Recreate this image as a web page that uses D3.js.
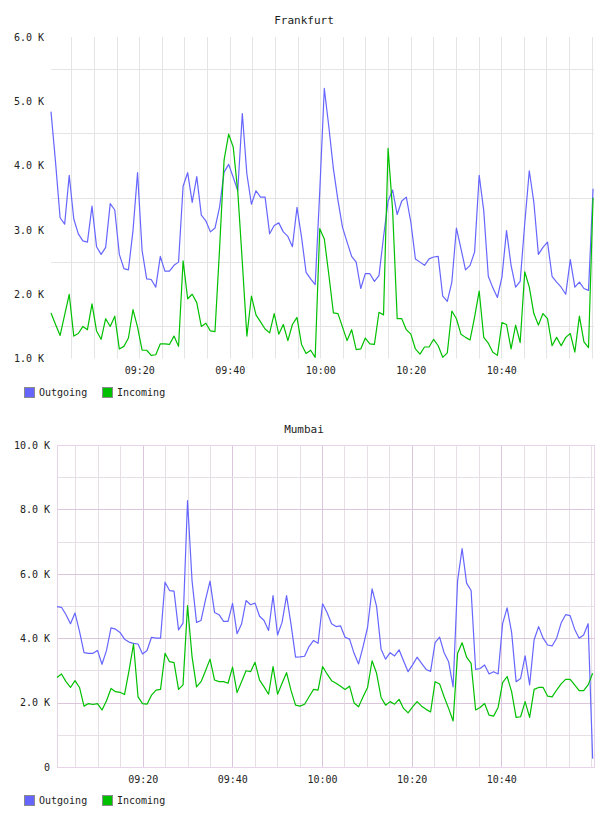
<!DOCTYPE html>
<html>
<head>
<meta charset="utf-8">
<script src="https://cdn.jsdelivr.net/npm/d3@7"></script>
<style>
body { margin: 0; background: #fff; }
text { font-family: "DejaVu Sans Mono", monospace; fill: #222; }
</style>
</head>
<body>
<div id="chart"></div>
<script>
// values in thousands, one sample per step
const frankfurtOut = [
    4.84, 4.05, 3.19, 3.09, 3.85, 3.17, 2.94, 2.83, 2.81, 3.37,
    2.74, 2.62, 2.73, 3.41, 3.31, 2.62, 2.40, 2.38, 2.99, 3.89,
    2.68, 2.24, 2.23, 2.11, 2.59, 2.36, 2.36, 2.45, 2.50, 3.68,
    3.89, 3.43, 3.83, 3.23, 3.14, 2.97, 3.03, 3.35, 3.90, 4.02,
    3.82, 3.61, 4.81, 3.87, 3.40, 3.61, 3.51, 3.51, 2.94, 3.07,
    3.11, 2.97, 2.90, 2.74, 3.35, 2.89, 2.34, 2.24, 2.15, 3.60,
    5.20, 4.60, 3.95, 3.46, 3.04, 2.81, 2.59, 2.50, 2.09, 2.32,
    2.32, 2.20, 2.29, 2.89, 3.45, 3.62, 3.24, 3.45, 3.51, 3.12,
    2.55, 2.50, 2.45, 2.55, 2.58, 2.59, 1.97, 1.89, 2.19, 3.03,
    2.71, 2.38, 2.45, 2.66, 3.85, 3.30, 2.28, 2.10, 1.95, 2.27,
    2.99, 2.45, 2.11, 2.20, 3.10, 3.92, 3.43, 2.62, 2.73, 2.81,
    2.28, 2.19, 2.11, 2.00, 2.54, 2.11, 2.19, 2.09, 2.06, 3.64
];
const frankfurtIn = [
    1.71, 1.53, 1.36, 1.68, 2.00, 1.35, 1.39, 1.50, 1.45, 1.85,
    1.43, 1.30, 1.62, 1.50, 1.66, 1.15, 1.19, 1.32, 1.76, 1.49,
    1.13, 1.13, 1.05, 1.06, 1.23, 1.23, 1.22, 1.35, 1.19, 2.52,
    1.93, 2.00, 1.87, 1.50, 1.55, 1.43, 1.42, 2.70, 4.09, 4.49,
    4.29, 3.60, 2.50, 1.35, 1.97, 1.68, 1.57, 1.46, 1.40, 1.70,
    1.38, 1.53, 1.28, 1.53, 1.64, 1.22, 1.08, 1.13, 1.02, 3.02,
    2.86, 2.30, 1.71, 1.70, 1.49, 1.28, 1.45, 1.14, 1.15, 1.32,
    1.23, 1.22, 1.72, 1.68, 4.27, 3.30, 1.62, 1.62, 1.45, 1.38,
    1.15, 1.07, 1.18, 1.18, 1.30, 1.20, 1.02, 1.09, 1.74, 1.62,
    1.38, 1.33, 1.29, 1.65, 2.05, 1.33, 1.24, 1.10, 1.05, 1.56,
    1.53, 1.15, 1.52, 1.25, 2.35, 2.11, 1.70, 1.52, 1.70, 1.62,
    1.20, 1.33, 1.20, 1.33, 1.39, 1.10, 1.66, 1.26, 1.17, 3.50
];
const mumbaiOut = [
    4.98, 4.96, 4.73, 4.45, 4.78, 4.21, 3.55, 3.53, 3.53, 3.62,
    3.19, 3.62, 4.32, 4.28, 4.18, 3.97, 3.88, 3.84, 3.82, 3.51,
    3.62, 4.03, 4.00, 4.00, 5.74, 5.48, 5.46, 4.26, 4.47, 8.27,
    5.79, 4.49, 4.55, 5.20, 5.77, 4.80, 4.73, 4.52, 4.52, 5.08,
    4.14, 4.44, 5.17, 5.04, 5.09, 4.68, 4.55, 4.24, 5.32, 4.10,
    4.49, 5.32, 4.42, 3.41, 3.42, 3.44, 3.74, 3.93, 3.84, 5.07,
    4.80, 4.45, 4.36, 4.38, 4.03, 3.97, 3.53, 3.20, 3.74, 4.34,
    5.53, 4.99, 3.66, 3.35, 3.55, 3.45, 3.64, 3.29, 2.96, 3.17,
    3.41, 3.22, 3.03, 2.97, 3.86, 4.03, 3.55, 3.27, 2.49, 5.79,
    6.78, 5.71, 5.48, 3.03, 3.06, 3.17, 2.89, 2.96, 2.89, 4.45,
    4.94, 4.18, 2.65, 2.75, 3.45, 2.55, 3.95, 4.36, 4.00, 3.79,
    3.76, 4.00, 4.47, 4.73, 4.70, 4.28, 4.00, 4.10, 4.45, 0.26
];
const mumbaiIn = [
    2.78, 2.89, 2.65, 2.47, 2.68, 2.47, 1.89, 1.97, 1.94, 1.97,
    1.77, 2.06, 2.44, 2.34, 2.32, 2.25, 2.99, 3.82, 2.18, 1.97,
    1.95, 2.23, 2.39, 2.41, 3.53, 3.27, 3.24, 2.41, 2.55, 5.01,
    3.43, 2.49, 2.65, 2.99, 3.35, 2.70, 2.65, 2.65, 2.60, 3.10,
    2.31, 2.65, 2.99, 2.96, 3.25, 2.70, 2.49, 2.26, 3.12, 2.26,
    2.60, 2.93, 2.37, 1.92, 1.89, 1.95, 2.18, 2.41, 2.39, 3.12,
    2.89, 2.68, 2.60, 2.51, 2.41, 2.51, 1.99, 1.87, 2.18, 2.47,
    3.30, 2.91, 2.16, 1.92, 2.03, 1.95, 2.10, 1.82, 1.68, 1.87,
    2.03, 1.89, 1.79, 1.71, 2.65, 2.58, 2.18, 1.82, 1.43, 3.53,
    3.86, 3.41, 3.22, 1.77, 1.85, 1.97, 1.61, 1.58, 1.85, 2.62,
    2.81, 2.34, 1.54, 1.56, 2.03, 1.54, 2.41, 2.47, 2.47, 2.20,
    2.18, 2.39, 2.58, 2.72, 2.72, 2.55, 2.37, 2.37, 2.55, 2.91
];

const seriesNames = ["Outgoing", "Incoming"];
const seriesColors = ["#6666ff", "#00c000"];

const frankfurtTicks = [1, 2, 3, 4, 5, 6];
const frankfurtGrid = [1.5, 2.5, 3.5, 4.5, 5.5];
const mumbaiTicks = [0, 2, 4, 6, 8, 10];
const mumbaiMinorGrid = [1, 3, 5, 7, 9];
const mumbaiMajorGrid = [2, 4, 6, 8];

const timeLabels = ["09:20", "09:40", "10:00", "10:20", "10:40"];

const parseHM = d3.timeParse("%H:%M:%S");
const fmtK = d => d === 0 ? "0" : d.toFixed(1) + " K";

const svg = d3.select("#chart")
    .append("svg")
    .attr("width", 608)
    .attr("height", 816);

const drawPanel = (p) => {
    const g = svg.append("g");
    const t0 = parseHM(p.start);
    // samples arrive a little slower than once a minute
    const times = p.out.map((d, i) => new Date(+t0 + i * p.stepSec * 1000));

    const x = d3.scaleTime()
        .domain([parseHM(p.domain[0]), parseHM(p.domain[1])])
        .range([p.left, p.right]);
    const y = d3.scaleLinear()
        .domain(p.yDomain)
        .range([p.bottom, p.top]);

    const fiveMin = d3.timeMinute.every(5).range(x.domain()[0], x.domain()[1]);
    const major = timeLabels.map(s => +parseHM(s + ":00"));

    // vertical grid
    g.selectAll(".vgrid")
        .data(fiveMin)
        .join("line")
        .attr("x1", d => Math.round(x(d)) + 0.5)
        .attr("x2", d => Math.round(x(d)) + 0.5)
        .attr("y1", p.top)
        .attr("y2", p.bottom)
        .attr("stroke", d => p.framed && major.includes(+d) ? p.majorColor : p.minorColor)
        .attr("stroke-width", 1);

    // horizontal grid
    g.selectAll(".hminor")
        .data(p.minorGrid)
        .join("line")
        .attr("x1", p.left)
        .attr("x2", p.right)
        .attr("y1", d => Math.round(y(d)) + 0.5)
        .attr("y2", d => Math.round(y(d)) + 0.5)
        .attr("stroke", p.minorColor);

    if (p.framed) {
        g.selectAll(".hmajor")
            .data(p.majorGrid)
            .join("line")
            .attr("x1", p.left)
            .attr("x2", p.right)
            .attr("y1", d => Math.round(y(d)) + 0.5)
            .attr("y2", d => Math.round(y(d)) + 0.5)
            .attr("stroke", p.majorColor);

        g.append("rect")
            .attr("x", p.left + 0.5)
            .attr("y", Math.round(p.top) + 0.5)
            .attr("width", p.right - p.left)
            .attr("height", Math.round(p.bottom) - Math.round(p.top))
            .attr("fill", "none")
            .attr("stroke", p.frameColor);
    }

    // lines
    const line = d3.line()
        .x((d, i) => x(times[i]))
        .y(d => y(d));

    [p.out, p.inc].forEach((s, k) => {
        g.append("path")
            .datum(s)
            .attr("d", line)
            .attr("fill", "none")
            .attr("stroke", seriesColors[k])
            .attr("stroke-width", 1.2)
            .attr("stroke-linejoin", "round");
    });

    // y axis labels
    const yAxis = g.append("g")
        .attr("transform", `translate(${p.left},0)`)
        .call(d3.axisLeft(y).tickValues(p.yTicks).tickFormat(fmtK).tickSize(0).tickPadding(7));
    yAxis.select(".domain").remove();
    yAxis.selectAll("text").style("font-family", "DejaVu Sans Mono").style("font-size", "10px").attr("fill", "#222");

    // x axis labels
    const xAxis = g.append("g")
        .attr("transform", `translate(0,${p.axisY})`)
        .call(d3.axisBottom(x)
            .tickValues(timeLabels.map(s => parseHM(s + ":00")))
            .tickFormat(d3.timeFormat("%H:%M"))
            .tickSize(0).tickPadding(0));
    xAxis.select(".domain").remove();
    xAxis.selectAll("text").style("font-family", "DejaVu Sans Mono").style("font-size", "10px").attr("fill", "#222");

    // title
    g.append("text")
        .attr("x", 304)
        .attr("y", p.titleY)
        .attr("text-anchor", "middle")
        .attr("dominant-baseline", "central")
        .style("font-size", "11px")
        .text(p.title);

    // legend
    const lg = g.selectAll(".legend")
        .data(seriesNames)
        .join("g")
        .attr("transform", (d, i) => `translate(${[24, 102][i]},${p.legendY})`);
    lg.append("rect")
        .attr("x", 0.5).attr("y", -4.5)
        .attr("width", 10).attr("height", 10)
        .attr("fill", (d, i) => seriesColors[i])
        .attr("stroke", "#8a8a8a");
    lg.append("text")
        .attr("x", 15)
        .attr("y", 0.5)
        .attr("dominant-baseline", "central")
        .style("font-size", "10px")
        .text(d => d);
};

drawPanel({
    title: "Frankfurt",
    out: frankfurtOut, inc: frankfurtIn,
    start: "09:00:30", stepSec: 60.4, domain: ["09:00:30", "11:00:30"],
    left: 51, right: 594, top: 37, bottom: 358.6,
    yDomain: [1, 6], yTicks: frankfurtTicks,
    minorGrid: frankfurtGrid, majorGrid: [],
    framed: false, minorColor: "#e4e4e4",
    titleY: 20, axisY: 367, legendY: 392
});

drawPanel({
    title: "Mumbai",
    out: mumbaiOut, inc: mumbaiIn,
    start: "09:00:53", stepSec: 60.25, domain: ["09:00:53", "11:00:41"],
    left: 57, right: 594, top: 445, bottom: 767,
    yDomain: [0, 10], yTicks: mumbaiTicks,
    minorGrid: mumbaiMinorGrid, majorGrid: mumbaiMajorGrid,
    framed: true, minorColor: "#e6e0e6", majorColor: "#dcc6dc", frameColor: "#e8d4e8",
    titleY: 429, axisY: 776, legendY: 800
});
</script>
</body>
</html>
